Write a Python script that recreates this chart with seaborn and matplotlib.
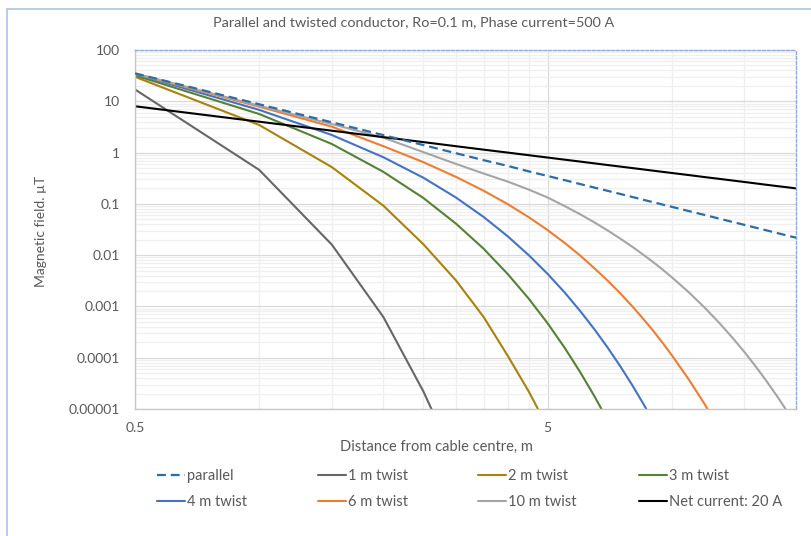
import matplotlib
matplotlib.use('Agg')
import matplotlib.pyplot as plt
import matplotlib.ticker as mticker
from matplotlib.lines import Line2D
import seaborn as sns

# distances (m) and field values (uT)
distance = [0.5, 1, 1.5, 2, 2.5, 3, 3.5, 4, 4.5, 5, 5.5, 6, 6.5, 7, 7.5, 8, 8.5, 9, 9.5, 10,
            11, 12, 13, 14, 15, 16, 17, 18, 19, 20]

parallel = [35, 8.75, 3.89, 2.19, 1.40, 0.97, 0.71, 0.55, 0.43, 0.35, 0.29, 0.243, 0.207, 0.179,
            0.156, 0.137, 0.121, 0.108, 0.097, 0.0875, 0.0723, 0.0608, 0.0518, 0.0446, 0.0389,
            0.0342, 0.0303, 0.027, 0.0242, 0.0219]
twist_1m = [17, 0.46, 0.016, 0.00062, 0.000022, 0.0000009]
twist_2m = [30, 3.45, 0.52, 0.092, 0.0163, 0.0032, 0.00062, 0.00011, 0.000022, 0.0000044]
twist_3m = [32, 5.65, 1.47, 0.42, 0.13, 0.041, 0.0133, 0.0043, 0.00142, 0.00047, 0.000156,
            0.000052, 0.0000175, 0.0000059]
twist_4m = [34, 6.8, 2.2, 0.81, 0.323, 0.1325, 0.0554, 0.0234, 0.0100, 0.00431, 0.00187, 0.00081,
            0.000354, 0.000155, 0.0000683, 0.0000301, 0.0000133, 0.0000059]
twist_6m = [34.5, 7.85, 3.2, 1.33, 0.65, 0.335, 0.18, 0.099, 0.055, 0.0308, 0.0173, 0.0098,
            0.0055, 0.00315, 0.0018, 0.00103, 0.00059, 0.00034, 0.000195, 0.000112, 0.0000375,
            0.0000126, 0.0000042]
twist_10m = [35, 8.2, 3.6, 1.95, 1.02, 0.6, 0.39, 0.272, 0.19, 0.133, 0.0905, 0.0625, 0.0433,
             0.0301, 0.021, 0.0148, 0.0104, 0.00738, 0.00523, 0.00371, 0.00188, 0.000956,
             0.000488, 0.00025, 0.000129, 0.0000662, 0.0000342, 0.0000177, 0.0000092, 0.0000048]
net_current = [8, 4, 2.67, 2, 1.6, 1.33, 1.14, 1, 0.889, 0.8, 0.727, 0.667, 0.615, 0.571, 0.533,
               0.5, 0.471, 0.444, 0.421, 0.4, 0.364, 0.333, 0.308, 0.286, 0.267, 0.25, 0.235,
               0.222, 0.211, 0.2]

labels = ['parallel', '1 m twist', '2 m twist', '3 m twist',
          '4 m twist', '6 m twist', '10 m twist', 'Net current: 20 A']
values = [parallel, twist_1m, twist_2m, twist_3m, twist_4m, twist_6m, twist_10m, net_current]
colors = ['#2e6da4', '#666666', '#a8820a', '#548235', '#4472c4', '#ed7d31', '#a5a5a5', '#000000']

x_major = [0.5, 5]
x_minor = [1, 1.5, 2, 2.5, 3, 3.5, 4, 4.5, 10, 15]
y_ticks = [0.00001, 0.0001, 0.001, 0.01, 0.1, 1, 10, 100]
y_ticklabels = ['0.00001', '0.0001', '0.001', '0.01', '0.1', '1', '10', '100']

sns.set_theme(style='white')
plt.rcParams['font.family'] = ['Lato', 'DejaVu Sans']
TXT = '#595959'

fig = plt.figure(figsize=(8.12, 5.36), dpi=100)
ax = fig.add_axes([135 / 812, 1 - 409 / 536, 661 / 812, 359 / 536])
ax.set_xscale('log')
ax.set_yscale('log')

handles = []
for lab, vals, col in zip(labels, values, colors):
    sns.lineplot(x=distance[:len(vals)], y=vals, ax=ax, color=col, linewidth=1.5, label=lab,
                 legend=False)
    ln = ax.lines[-1]
    if lab == 'parallel':
        ln.set_dashes((4, 2.2))
        ln.set_zorder(5)
        ln.set_linewidth(1.6)
    handles.append(ln)

ax.set_xlim(0.5, 20)
ax.set_ylim(0.00001, 100)

ax.xaxis.set_major_locator(mticker.FixedLocator(x_major))
ax.xaxis.set_major_formatter(mticker.FixedFormatter(['0.5', '5']))
ax.xaxis.set_minor_locator(mticker.FixedLocator(x_minor))
ax.xaxis.set_minor_formatter(mticker.NullFormatter())
ax.yaxis.set_major_locator(mticker.FixedLocator(y_ticks))
ax.yaxis.set_major_formatter(mticker.FixedFormatter(y_ticklabels))
ax.yaxis.set_minor_locator(mticker.LogLocator(base=10, subs=range(2, 10), numticks=20))
ax.yaxis.set_minor_formatter(mticker.NullFormatter())

ax.grid(which='major', axis='both', color='#d9d9d9', linewidth=0.9)
ax.grid(which='minor', axis='both', color='#efefef', linewidth=0.9)
ax.set_axisbelow(True)
ax.tick_params(which='both', length=0, labelsize=10, labelcolor=TXT)
ax.tick_params(axis='y', pad=11)
ax.tick_params(axis='x', pad=9)

for side in ['left', 'bottom']:
    ax.spines[side].set_color('#c8c8c8')
    ax.spines[side].set_linewidth(1)
for side in ['top', 'right']:
    ax.spines[side].set_color('#8faadc')
    ax.spines[side].set_linestyle((0, (2, 1.5)))
    ax.spines[side].set_linewidth(1)

fig.text(414 / 812, 1 - 22 / 536, 'Parallel and twisted conductor, Ro=0.1 m, Phase current=500 A',
         ha='center', va='center', fontsize=10.4, color=TXT)
fig.text(436 / 812, 1 - 447 / 536, 'Distance from cable centre, m', ha='center', va='center',
         fontsize=10.5, color=TXT)
fig.text(41 / 812, 1 - 231 / 536, 'Magnetic field. µT', ha='center', va='center', rotation=90,
         fontsize=10, color=TXT)

# legend: four columns of two rows, as in the original
col_x = [157, 318, 478, 639]
for i, cx in enumerate(col_x):
    leg = fig.legend(handles=[handles[i], handles[i + 4]], labels=[labels[i], labels[i + 4]],
                     loc='center left', bbox_to_anchor=(cx / 812, 1 - 489 / 536),
                     frameon=False, fontsize=10.5, handlelength=1.95, handletextpad=0.12,
                     borderpad=0, borderaxespad=0, labelspacing=0.78)
    for t in leg.get_texts():
        t.set_color(TXT)

# chart-area outline on the left and top
fig.add_artist(Line2D([7 / 812, 7 / 812], [0, 1 - 9 / 536], color='#a9c4e8', linewidth=1.2))
fig.add_artist(Line2D([7 / 812, 1], [1 - 9 / 536, 1 - 9 / 536], color='#a9c4e8', linewidth=1.2))

fig.savefig('out.png', dpi=100)
